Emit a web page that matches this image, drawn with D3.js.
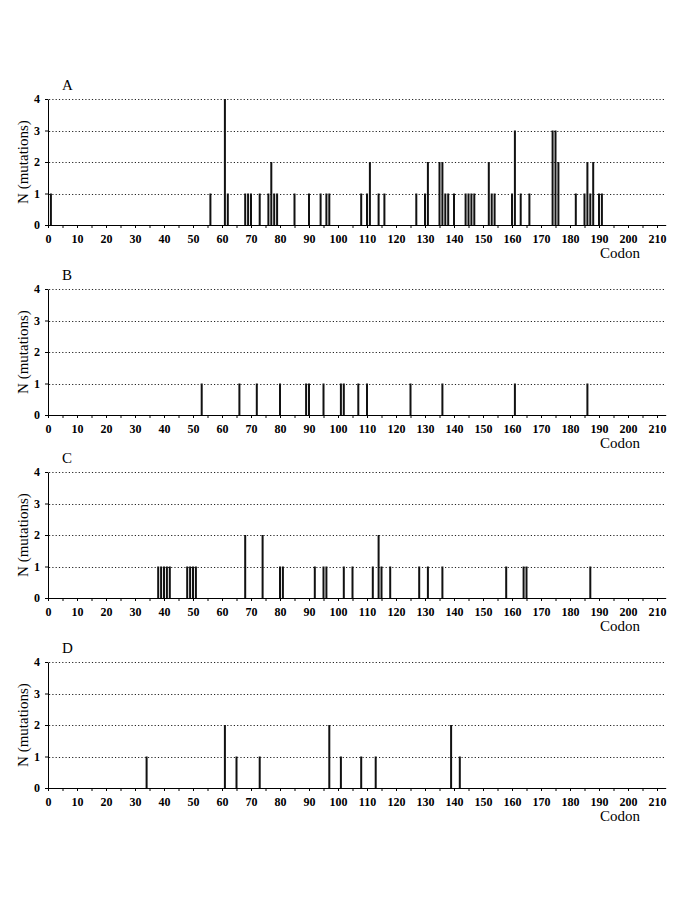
<!DOCTYPE html>
<html><head><meta charset="utf-8">
<script src="https://cdn.jsdelivr.net/npm/d3@7"></script>
<style>body{margin:0;background:#fff}svg{display:block}</style>
</head><body><svg id="c" width="685" height="913"></svg>
<script>
const panelLabels = ["A", "B", "C", "D"];
const xTickValues = d3.range(0, 211, 10);
const yTickValues = [0, 1, 2, 3, 4];
const xAxisTitle = "Codon";
const yAxisTitle = "N (mutations)";

const codonsA = [1,56,61,62,68,69,70,73,76,77,78,79,85,90,94,96,97,108,110,111,114,116,127,130,131,135,136,137,138,140,144,145,146,147,152,153,154,160,161,163,166,174,175,176,182,185,186,187,188,190,191];
const countsA = [1,1,4,1,1,1,1,1,1,2,1,1,1,1,1,1,1,1,1,2,1,1,1,1,2,2,2,1,1,1,1,1,1,1,2,1,1,1,3,1,1,3,3,2,1,1,2,1,2,1,1];

const codonsB = [53,66,72,80,89,90,95,101,102,107,110,125,136,161,186];
const countsB = [1,1,1,1,1,1,1,1,1,1,1,1,1,1,1];

const codonsC = [38,39,40,41,42,48,49,50,51,68,74,80,81,92,95,96,102,105,112,114,115,118,128,131,136,158,164,165,187];
const countsC = [1,1,1,1,1,1,1,1,1,2,2,1,1,1,1,1,1,1,1,2,1,1,1,1,1,1,1,1,1];

const codonsD = [34,61,65,73,97,101,108,113,139,142];
const countsD = [1,2,1,1,2,1,1,1,2,1];

const panels = [
  {label: panelLabels[0], codons: codonsA, counts: countsA},
  {label: panelLabels[1], codons: codonsB, counts: countsB},
  {label: panelLabels[2], codons: codonsC, counts: countsC},
  {label: panelLabels[3], codons: codonsD, counts: countsD}
];

const svg = d3.select("#c");
svg.append("rect").attr("width", 685).attr("height", 913).attr("fill", "#fff");

const serif = "Liberation Serif, DejaVu Serif, serif";
const x = d3.scaleLinear().domain([0, 213]).range([48, 665.7]);
const bases = [225, 415, 598, 788];
const panelH = 126;

panels.forEach((p, i) => {
  const y0 = bases[i];
  const y = d3.scaleLinear().domain([0, 4]).range([y0, y0 - panelH]);
  const g = svg.append("g");

  g.selectAll("line.grid").data([1, 2, 3, 4]).join("line")
    .attr("class", "grid")
    .attr("x1", x(0) + 1).attr("x2", x.range()[1])
    .attr("y1", d => Math.round(y(d)) + 0.5).attr("y2", d => Math.round(y(d)) + 0.5)
    .attr("stroke", "#222").attr("stroke-width", 1)
    .attr("stroke-dasharray", "1.2,2.1");

  g.selectAll("rect.bar").data(d3.zip(p.codons, p.counts)).join("rect")
    .attr("class", "bar")
    .attr("x", d => x(d[0]) - 1)
    .attr("width", 2)
    .attr("y", d => y(d[1]))
    .attr("height", d => y(0) - y(d[1]))
    .attr("fill", "#111");

  const xAxis = d3.axisBottom(x)
    .tickValues(d3.range(0, 213, 5))
    .tickSize(3).tickSizeOuter(0).tickPadding(6)
    .tickFormat(d => xTickValues.includes(d) ? d : "");
  const gx = g.append("g").attr("transform", `translate(0,${y0})`).call(xAxis);
  gx.selectAll("path,line").attr("stroke", "#000");
  gx.selectAll("text").attr("font-family", serif).attr("font-weight", "bold")
    .attr("font-size", 12).attr("fill", "#000");

  const yAxis = d3.axisLeft(y).tickValues(yTickValues)
    .tickSize(3).tickSizeOuter(0).tickPadding(5).tickFormat(d3.format("d"));
  const gy = g.append("g").attr("transform", `translate(${x(0)},0)`).call(yAxis);
  gy.selectAll("path,line").attr("stroke", "#000");
  gy.selectAll("text").attr("font-family", serif).attr("font-weight", "bold")
    .attr("font-size", 12).attr("fill", "#000");

  g.append("text").attr("x", 62).attr("y", y(4) - 9.5)
    .attr("font-family", serif).attr("font-size", 15).text(p.label);

  g.append("text").attr("x", 620).attr("y", y0 + 33)
    .attr("text-anchor", "middle").attr("font-family", serif).attr("font-size", 15)
    .text(xAxisTitle);

  g.append("text")
    .attr("transform", `translate(28,${y0 - panelH / 2}) rotate(-90)`)
    .attr("text-anchor", "middle").attr("font-family", serif).attr("font-size", 15)
    .text(yAxisTitle);
});
</script></body></html>
